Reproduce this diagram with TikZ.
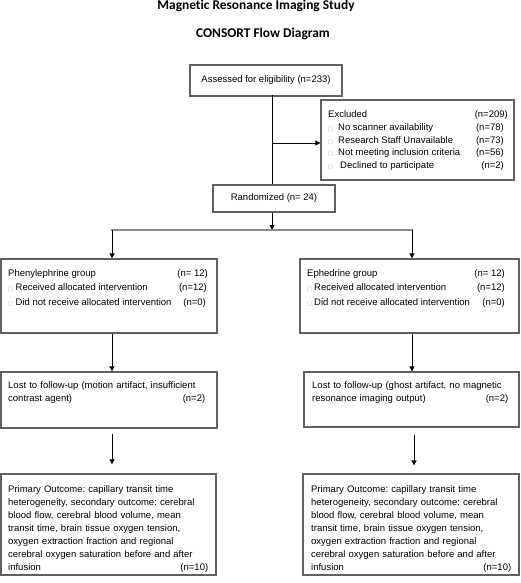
\documentclass[tikz,border=0pt]{standalone}
\usepackage{fontspec}
\setmainfont{Liberation Sans}
\newfontfamily\titlefont{Carlito}[Ligatures=NoCommon]
\newfontfamily\symfont{DejaVu Sans}
\usetikzlibrary{arrows.meta}
\definecolor{boxgray}{HTML}{616161}
\definecolor{linegray}{HTML}{8A8A8A}
\definecolor{bulgray}{HTML}{AAAAAA}
\newcommand\sqbul{{\symfont\fontsize{5}{5}\selectfont\textcolor{bulgray}{□}}}
\frenchspacing
\begin{document}
\begin{tikzpicture}[x=1pt,y=-1pt,
  box/.style={draw=boxgray,line width=1.3pt,inner sep=0pt},
  txt/.style={inner sep=0pt,font=\fontsize{9.5}{12.9}\selectfont\frenchspacing},
  lt/.style={txt,anchor=base west},
  rt/.style={txt,anchor=base east},
  para/.style={txt,anchor=north west,align=left},
  ttl/.style={inner sep=0pt,anchor=base,font=\titlefont\bfseries\fontsize{13.4}{15}\selectfont},
  conn/.style={draw=black,line width=0.8pt,-{Triangle[length=5pt,width=5pt]}},
  plain/.style={draw=black,line width=0.8pt},
  branch/.style={draw=linegray,line width=1.8pt},
]
\useasboundingbox (0,0) rectangle (520,583);

% titles
\node[ttl] (title) at (256,9.5) {Magnetic Resonance Imaging Study};
\node[ttl] (subtitle) at (263,37.5) {CONSORT Flow Diagram};

% boxes
\node[box,minimum width=152pt,minimum height=31pt] (assessed) at (266,80.5) {};
\node[box,minimum width=193pt,minimum height=80pt] (excluded) at (417.5,140) {};
\node[box,minimum width=122pt,minimum height=27pt] (random) at (274,198.5) {};
\node[box,minimum width=216pt,minimum height=74pt] (gL) at (109,296) {};
\node[box,minimum width=219pt,minimum height=74pt] (gR) at (409.5,296) {};
\node[box,minimum width=216pt,minimum height=56pt] (lL) at (109,400) {};
\node[box,minimum width=215pt,minimum height=55pt] (lR) at (411.5,399.5) {};
\node[box,minimum width=215pt,minimum height=101pt] (pL) at (108.5,524.5) {};
\node[box,minimum width=216pt,minimum height=101pt] (pR) at (411,524.5) {};

% texts
\node[txt] (tAss) at (266,80.5) {Assessed for eligibility (n=233)};
\node[txt] (tRand) at (274,198.5) {Randomized (n= 24)};

\node[lt] (e0) at (328,117.5) {Excluded};
\node[rt] (e0n) at (508,117.5) {(n=209)};
\node[lt] (e1b) at (328,130.25) {\sqbul};
\node[lt] (e1) at (338,130.25) {No scanner availability};
\node[rt] (e1n) at (504,130.25) {(n=78)};
\node[lt] (e2b) at (328,143) {\sqbul};
\node[lt] (e2) at (338,143) {Research Staff Unavailable};
\node[rt] (e2n) at (504,143) {(n=73)};
\node[lt] (e3b) at (328,155.75) {\sqbul};
\node[lt] (e3) at (338,155.75) {Not meeting inclusion criteria};
\node[rt] (e3n) at (504,155.75) {(n=56)};
\node[lt] (e4b) at (328,168.5) {\sqbul};
\node[lt] (e4) at (340,168.5) {Declined to participate};
\node[rt] (e4n) at (504,168.5) {(n=2)};

\node[lt] (gL0) at (8,276.5) {Phenylephrine group};
\node[rt] (gL0n) at (208,276.5) {(n= 12)};
\node[lt] (gL1b) at (8,290.5) {\sqbul};
\node[lt] (gL1) at (15.5,290.5) {Received allocated intervention};
\node[rt] (gL1n) at (207,290.5) {(n=12)};
\node[lt] (gL2b) at (8,305.5) {\sqbul};
\node[lt] (gL2) at (15.5,305.5) {Did not receive allocated intervention};
\node[rt] (gL2n) at (206,305.5) {(n=0)};

\node[lt] (gR0) at (307,276.5) {Ephedrine group};
\node[rt] (gR0n) at (505,276.5) {(n= 12)};
\node[lt] (gR1b) at (307,290.5) {\sqbul};
\node[lt] (gR1) at (314,290.5) {Received allocated intervention};
\node[rt] (gR1n) at (505,290.5) {(n=12)};
\node[lt] (gR2b) at (307,305.5) {\sqbul};
\node[lt] (gR2) at (314,305.5) {Did not receive allocated intervention};
\node[rt] (gR2n) at (505,305.5) {(n=0)};

\node[para,text width=197pt] (tlL) at (8,381.7)
  {Lost to follow-up (motion artifact, insufficient\\contrast agent)\hfill(n=2)};
\node[para,text width=196pt] (tlR) at (312,381.7)
  {Lost to follow-up (ghost artifact, no magnetic\\resonance imaging output)\hfill(n=2)};

\node[para,text width=200pt] (tpL) at (8,485.7)
  {Primary Outcome: capillary transit time\\
   heterogeneity, secondary outcome: cerebral\\
   blood flow, cerebral blood volume, mean\\
   transit time, brain tissue oxygen tension,\\
   oxygen extraction fraction and regional\\
   cerebral oxygen saturation before and after\\
   infusion\hfill(n=10)};
\node[para,text width=200pt] (tpR) at (311,485.7)
  {Primary Outcome: capillary transit time\\
   heterogeneity, secondary outcome: cerebral\\
   blood flow, cerebral blood volume, mean\\
   transit time, brain tissue oxygen tension,\\
   oxygen extraction fraction and regional\\
   cerebral oxygen saturation before and after\\
   infusion\hfill(n=10)};

% connectors
\coordinate (j1) at (272,143);
\coordinate (bC) at (272,230);
\coordinate (bL) at (112,230);
\coordinate (bR) at (412,230);
\coordinate (cR) at (414,230);

\draw[plain] ([xshift=6pt,yshift=2pt]assessed.south) -- (random.north -| j1);
\draw[conn] (j1) -- (j1 -| excluded.west);
\draw[conn] (random.south -| bC) -- (bC);
\draw[branch] ([xshift=-1pt]bL) -- ([xshift=1pt]bR);
\draw[conn] (bL) -- (gL.north -| bL);
\draw[conn] (bR) -- (gR.north -| bR);
\draw[conn] (gL.south -| bL) -- (lL.north -| bL);
\draw[conn] (gR.south -| bR) -- (lR.north -| bR);
\draw[conn,shorten <=5pt,shorten >=9pt] (lL.south -| bL) -- (pL.north -| bL);
\draw[conn,shorten <=7pt,shorten >=8pt] (lR.south -| cR) -- (pR.north -| cR);
\end{tikzpicture}
\end{document}
